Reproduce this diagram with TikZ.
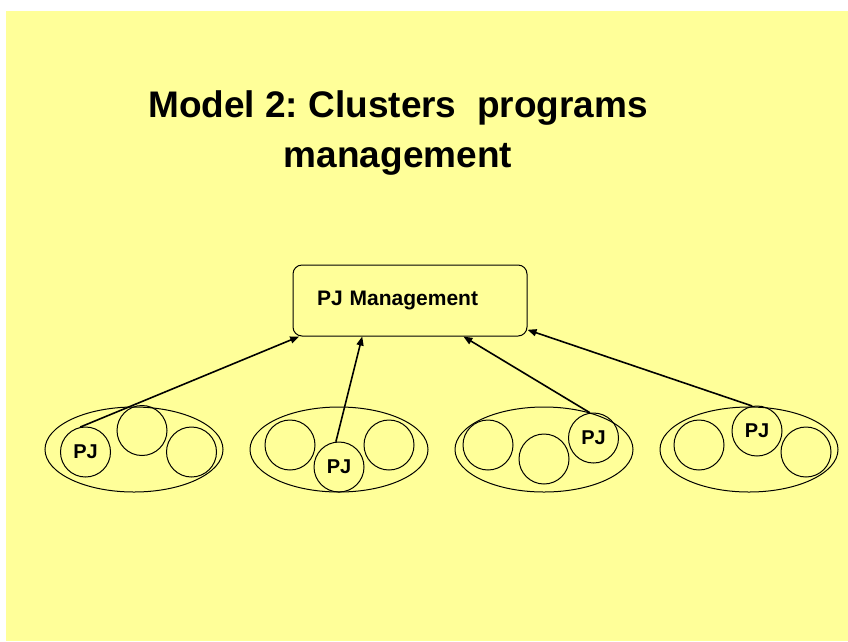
\documentclass[tikz,border=0pt]{standalone}
\usepackage{fontspec}
\setmainfont{Liberation Sans}
\usetikzlibrary{shapes.geometric,arrows.meta}
\definecolor{bgyellow}{HTML}{FFFF99}
\frenchspacing
\begin{document}
\begin{tikzpicture}[x=1pt,y=-1pt,
  cluster/.style={draw, ellipse, line width=1pt, minimum width=178pt, minimum height=85pt, inner sep=0pt},
  proj/.style={draw, circle, line width=1pt, minimum size=50pt, inner sep=0pt, font=\fontsize{20}{24}\selectfont\bfseries},
  mgmtbox/.style={draw, rounded corners=9pt, line width=1pt, minimum height=71pt, text width=186pt, inner xsep=24pt, inner ysep=0pt, align=left, font=\fontsize{21}{25}\selectfont\bfseries},
  titlefont/.style={font=\fontsize{37}{44}\selectfont\bfseries, inner sep=0pt, anchor=base},
  link/.style={line width=1.6pt, -{Triangle[length=9pt,width=7pt]}}]
\useasboundingbox (0,0) rectangle (848,641);
\fill[white] (0,0) rectangle (848,641);
\fill[bgyellow] (6,11) rectangle (848,641);

% title
\node[titlefont] (title1) at (398,117) {Model 2: Clusters\ \ programs};
\node[titlefont] (title2) at (398,167) {management};

% management box
\node[mgmtbox] (mgmt) at (410,300.5) {PJ Management};

% clusters
\node[cluster] (e1) at (134,449.5) {};
\node[cluster] (e2) at (339,449.5) {};
\node[cluster] (e3) at (544,449.5) {};
\node[cluster] (e4) at (749,449.5) {};

% cluster 1
\node[proj] (p1) at (85.5,452) {PJ};
\node[proj] (c1b) at (142,430.5) {};
\node[proj] (c1c) at (191.5,452) {};
% cluster 2
\node[proj] (c2a) at (290,445) {};
\node[proj] (p2) at (339,467) {PJ};
\node[proj] (c2c) at (389,445) {};
% cluster 3
\node[proj] (c3a) at (488,445) {};
\node[proj] (c3b) at (544,459) {};
\node[proj] (p3) at (593.5,438) {PJ};
% cluster 4
\node[proj] (c4a) at (699,445) {};
\node[proj] (p4) at (757,431) {PJ};
\node[proj] (c4c) at (806,452) {};

% links
\draw[link] (p1.102) -- (mgmt.198);
\draw[link] (p2.97) -- (mgmt.217);
\draw[link] (p3.98) -- (mgmt.-34);
\draw[link] (p4.101) -- (mgmt.-14);
\end{tikzpicture}
\end{document}
